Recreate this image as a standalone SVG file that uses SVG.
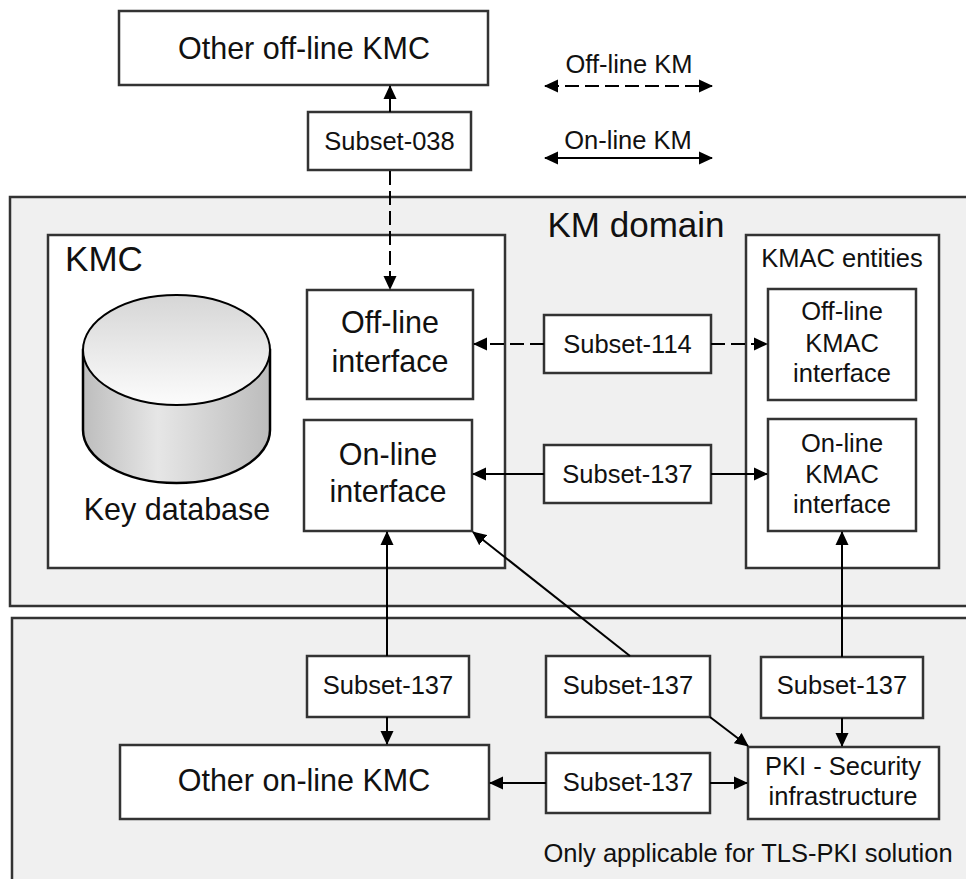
<svg xmlns="http://www.w3.org/2000/svg" width="966" height="879" viewBox="0 0 966 879">
<defs>
<marker id="ah" markerUnits="userSpaceOnUse" markerWidth="14" markerHeight="14" refX="13" refY="7" orient="auto-start-reverse" viewBox="0 0 14 14">
<path d="M0,0.5 L14,7 L0,13.5 z" fill="#000"/>
</marker>
<linearGradient id="topG" x1="0" y1="0" x2="0" y2="1">
<stop offset="0" stop-color="#d6d6d6"/>
<stop offset="1" stop-color="#fcfcfc"/>
</linearGradient>
<linearGradient id="bodyG" x1="0" y1="0" x2="1" y2="0">
<stop offset="0" stop-color="#bdbdbd"/>
<stop offset="0.4" stop-color="#e6e6e6"/>
<stop offset="1" stop-color="#bcbcbc"/>
</linearGradient>
</defs>
<style>
.box{fill:#fff;stroke:#333;stroke-width:2.5}
.area{fill:#f0f0f0;stroke:#333;stroke-width:2.5}
.t{font-family:"Liberation Sans",Arial,sans-serif;fill:#111;text-anchor:middle}
.s{font-size:25.5px}
.m{font-size:30.5px}
.l{font-size:35px}
.c{fill:none;stroke:#000;stroke-width:2}
.d{stroke-dasharray:14 6}
.a{marker-end:url(#ah)}
</style>
<rect width="966" height="879" fill="#fff"/>
<g id="km-domain">
<rect class="area" x="10" y="197" width="970" height="409"/>
<text class="t l" x="636" y="237">KM domain</text>
</g>
<g id="tls-area">
<rect class="area" x="12" y="618" width="970" height="280"/>
<text class="t s" x="748" y="862">Only applicable for TLS-PKI solution</text>
</g>
<g id="other-offline-kmc">
<rect class="box" x="119" y="11" width="369" height="74"/>
<text class="t m" x="304" y="59">Other off-line KMC</text>
</g>
<g id="legend">
<text class="t s" x="629" y="73">Off-line KM</text>
<text class="t s" x="628" y="149">On-line KM</text>
</g>
<g id="subset-038">
<rect class="box" x="308" y="112" width="163" height="58"/>
<text class="t s" x="389.5" y="150">Subset-038</text>
</g>
<g id="kmc">
<rect class="box" x="48" y="235" width="457" height="333"/>
<text class="t l" x="104" y="271">KMC</text>
</g>
<g id="key-database">
<path d="M83,350 V430 A93.5,53 0 0 0 270,430 V350 Z" fill="url(#bodyG)" stroke="#000" stroke-width="2.5"/>
<ellipse cx="176.5" cy="350" rx="93.5" ry="55" fill="url(#topG)" stroke="#000" stroke-width="2"/>
<text class="t m" x="177" y="520">Key database</text>
</g>
<g id="offline-interface">
<rect class="box" x="307" y="290" width="166" height="109"/>
<text class="t m" x="390" y="333">Off-line</text>
<text class="t m" x="390" y="372">interface</text>
</g>
<g id="online-interface">
<rect class="box" x="304" y="420" width="168" height="111"/>
<text class="t m" x="388" y="465">On-line</text>
<text class="t m" x="388" y="502">interface</text>
</g>
<g id="subset-114">
<rect class="box" x="544" y="315" width="167" height="58"/>
<text class="t s" x="627.5" y="353">Subset-114</text>
</g>
<g id="subset-137-mid">
<rect class="box" x="544" y="445" width="167" height="58"/>
<text class="t s" x="627.5" y="483">Subset-137</text>
</g>
<g id="kmac-entities">
<rect class="box" x="746" y="235" width="193" height="333"/>
<text class="t s" x="842" y="267">KMAC entities</text>
</g>
<g id="offline-kmac">
<rect class="box" x="768" y="289" width="148" height="111"/>
<text class="t s" x="842" y="320">Off-line</text>
<text class="t s" x="842" y="352">KMAC</text>
<text class="t s" x="842" y="382">interface</text>
</g>
<g id="online-kmac">
<rect class="box" x="768" y="419" width="148" height="112"/>
<text class="t s" x="842" y="452">On-line</text>
<text class="t s" x="842" y="483">KMAC</text>
<text class="t s" x="842" y="513">interface</text>
</g>
<g id="subset-137-bl">
<rect class="box" x="307" y="656" width="162" height="61"/>
<text class="t s" x="388" y="694">Subset-137</text>
</g>
<g id="subset-137-bm">
<rect class="box" x="546" y="656" width="164" height="61"/>
<text class="t s" x="628" y="694">Subset-137</text>
</g>
<g id="subset-137-br">
<rect class="box" x="761" y="657" width="162" height="61"/>
<text class="t s" x="842" y="694">Subset-137</text>
</g>
<g id="other-online-kmc">
<rect class="box" x="120" y="745" width="369" height="74"/>
<text class="t m" x="304" y="791">Other on-line KMC</text>
</g>
<g id="subset-137-bottom">
<rect class="box" x="546" y="753" width="164" height="60"/>
<text class="t s" x="628" y="791">Subset-137</text>
</g>
<g id="pki">
<rect class="box" x="748" y="747" width="191" height="72"/>
<text class="t s" x="843" y="775">PKI - Security</text>
<text class="t s" x="843" y="805">infrastructure</text>
</g>
<g id="connectors">
<line class="c d" x1="545" y1="86" x2="712" y2="86" style="marker-start:url(#ah);marker-end:url(#ah)"/>
<line class="c" x1="545" y1="158" x2="712" y2="158" style="marker-start:url(#ah);marker-end:url(#ah)"/>
<line class="c d a" x1="390" y1="112" x2="390" y2="86"/>
<line class="c d a" x1="390" y1="171" x2="390" y2="289"/>
<line class="c d a" x1="544" y1="344" x2="474" y2="344"/>
<line class="c d a" x1="711" y1="344" x2="767" y2="344"/>
<line class="c a" x1="544" y1="474" x2="473" y2="474"/>
<line class="c a" x1="711" y1="474" x2="767" y2="474"/>
<line class="c a" x1="387" y1="656" x2="387" y2="532"/>
<line class="c a" x1="387" y1="717" x2="387" y2="744"/>
<line class="c a" x1="630" y1="656" x2="473" y2="532"/>
<line class="c a" x1="710" y1="717" x2="748" y2="746"/>
<line class="c a" x1="842" y1="657" x2="842" y2="532"/>
<line class="c a" x1="842" y1="718" x2="842" y2="746"/>
<line class="c a" x1="546" y1="783" x2="490" y2="783"/>
<line class="c a" x1="710" y1="783" x2="747" y2="783"/>
</g>
</svg>
